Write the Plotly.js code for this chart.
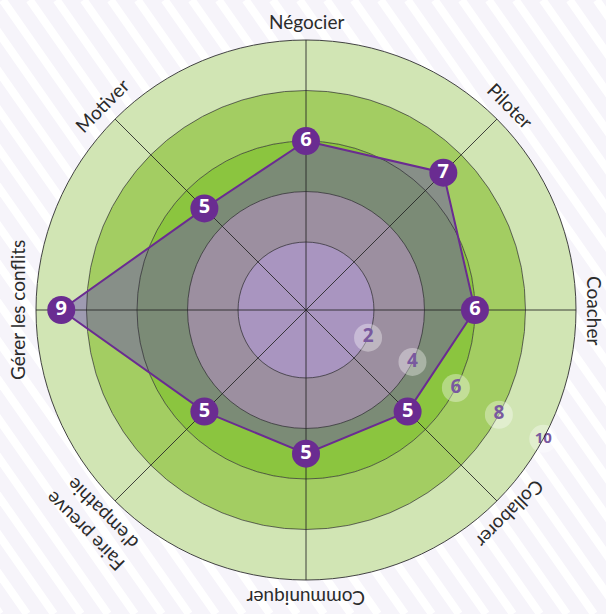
<!DOCTYPE html>
<html>
<head>
<meta charset="utf-8">
<script src="https://cdn.plot.ly/plotly-3.0.1.min.js"></script>
<style>html,body{margin:0;padding:0;background:#f6f4fa;}#chart{width:606px;height:614px;}</style>
</head>
<body>
<div id="chart"></div>
<script>
// ---- data ----
const categories = ['Négocier', 'Piloter', 'Coacher', 'Collaborer', 'Communiquer', "Faire preuve<br>d'empathie", 'Gérer les conflits', 'Motiver'];
const scores = [6, 7, 6, 5, 5, 5, 9, 5];
const ringBounds = [2, 4, 6, 8, 10];
const tickValues = [2, 4, 6, 8, 10];
const tickLabels = ['2', '4', '6', '8', '10'];

// ---- style ----
const W = 606, H = 614;
const CX = 306, CY = 310, RAD = 270;
const RMIN = -0.69;
const tickAngles = [114, 116, 117.5, 118.5, 118.5];
const ringColors = ['#e7d9d2', '#cdcd92', '#8bc53f', '#a3cd62', '#d1e5b4'];
const purple = '#6a2c91';
const gridCol = 'rgba(35,35,35,0.85)';

const n = categories.length;
const thetas = categories.map((c, i) => i * 360 / n);

const domain = {
  x: [(CX - RAD) / W, (CX + RAD) / W],
  y: [(H - CY - RAD) / H, (H - CY + RAD) / H]
};
function polarBase(showGrid) {
  return {
    domain: domain,
    bgcolor: 'rgba(0,0,0,0)',
    barmode: 'overlay',
    bargap: 0,
    radialaxis: {
      range: [RMIN, 10], showticklabels: false, ticks: '', showline: false,
      showgrid: showGrid, gridcolor: gridCol, gridwidth: 0.8,
      tickmode: 'array', tickvals: ringBounds
    },
    angularaxis: {
      rotation: 90, direction: 'clockwise', thetaunit: 'degrees',
      tickmode: 'linear', tick0: 0, dtick: 360 / n,
      showticklabels: false, ticks: '',
      showgrid: showGrid, gridcolor: gridCol, gridwidth: 1,
      showline: showGrid, linecolor: gridCol, linewidth: 1
    }
  };
}

// rings
const ringBase = ringBounds.map((b, i) => i === 0 ? RMIN : ringBounds[i - 1]);
const ringR = ringBounds.map((b, i) => b - ringBase[i]);
const rings = {
  type: 'barpolar', subplot: 'polar',
  r: ringR, base: ringBase,
  theta: ringBounds.map(() => 180), width: ringBounds.map(() => 360),
  marker: { color: ringColors, line: { width: 0 } },
  hoverinfo: 'skip', showlegend: false
};

const closedR = scores.concat([scores[0]]);
const closedT = thetas.concat([thetas[0]]);

const polyFill = {
  type: 'scatterpolar', subplot: 'polar2',
  r: closedR, theta: closedT, mode: 'lines',
  fill: 'toself', fillcolor: 'rgba(107,81,174,0.5)',
  line: { width: 0, color: 'rgba(0,0,0,0)' },
  hoverinfo: 'skip', showlegend: false
};

const polyLine = {
  type: 'scatterpolar', subplot: 'polar3',
  r: closedR, theta: closedT, mode: 'lines',
  line: { width: 2, color: purple },
  hoverinfo: 'skip', showlegend: false
};

const scaleLabels = {
  type: 'scatterpolar', subplot: 'polar3',
  r: tickValues, theta: tickAngles, mode: 'markers+text',
  marker: { size: 28, color: 'rgba(255,255,255,0.35)', line: { width: 0 } },
  text: tickLabels, textposition: 'middle center',
  textfont: { family: 'Open Sans', size: tickLabels.map(t => t.length > 1 ? 15 : 19), color: '#79599f', weight: 'bold' },
  hoverinfo: 'skip', showlegend: false
};

const points = {
  type: 'scatterpolar', subplot: 'polar3',
  r: scores, theta: thetas, mode: 'markers+text',
  marker: { size: 28, color: purple, line: { width: 0 } },
  text: scores.map(String), textposition: 'middle center',
  textfont: { family: 'Open Sans', size: 20, color: '#ffffff', weight: 'bold' },
  hoverinfo: 'skip', showlegend: false
};

// axis labels as rotated annotations
const annotations = categories.map((c, i) => {
  const t = thetas[i];
  const multi = c.indexOf('<br>') >= 0;
  const rl = RAD + (multi ? 31 : 19);
  const rad = t * Math.PI / 180;
  const px = CX + rl * Math.sin(rad);
  const py = CY - rl * Math.cos(rad);
  let ang = t > 180 ? t - 360 : t;
  return {
    xref: 'paper', yref: 'paper', x: px / W, y: 1 - py / H,
    xanchor: 'center', yanchor: 'middle', showarrow: false,
    text: c, textangle: ang,
    font: { family: 'Lato', size: 19, color: '#2b2b2b' }
  };
});

// background stripes
const shapes = [];
const slope = 1.43, span = H / slope, step = 27;
for (let x0 = -span - step; x0 < W + step; x0 += step) {
  shapes.push({
    type: 'line', xref: 'paper', yref: 'paper', layer: 'below',
    x0: x0 / W, y0: 1, x1: (x0 + span) / W, y1: 0,
    line: { color: '#ffffff', width: 8 }
  });
}

const layout = {
  width: W, height: H,
  margin: { l: 0, r: 0, t: 0, b: 0 },
  paper_bgcolor: '#f6f4fa',
  plot_bgcolor: 'rgba(0,0,0,0)',
  showlegend: false,
  polar: polarBase(false),
  polar2: polarBase(false),
  polar3: polarBase(true),
  annotations: annotations,
  shapes: shapes
};

Plotly.newPlot('chart', [rings, polyFill, polyLine, scaleLabels, points], layout, { displayModeBar: false, staticPlot: true });
</script>
</body>
</html>
